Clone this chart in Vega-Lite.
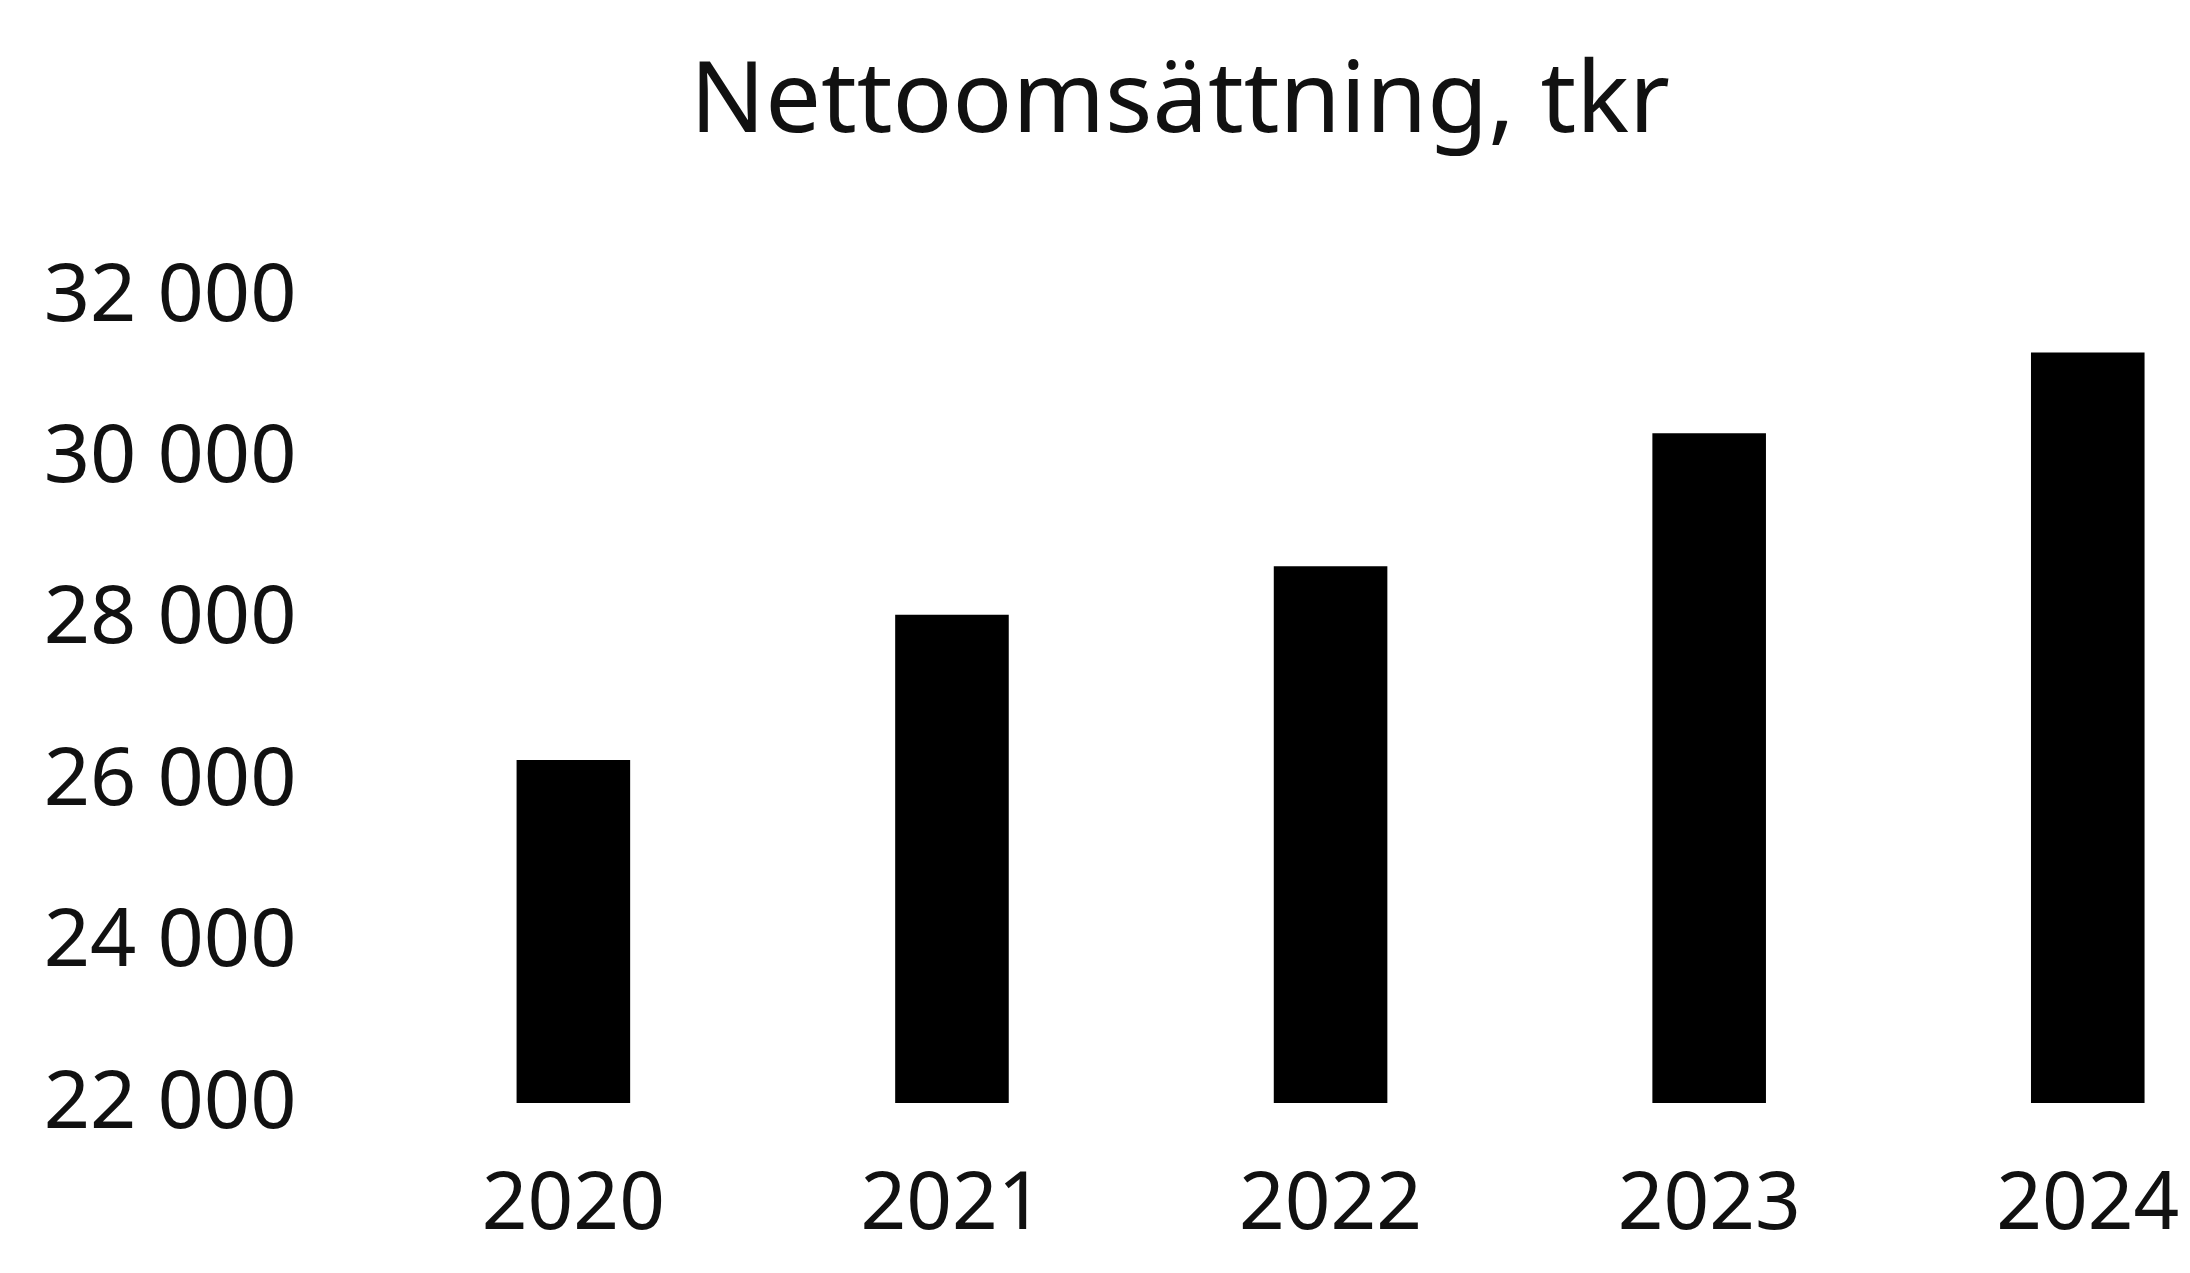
{
  "$schema": "https://vega.github.io/schema/vega-lite/v6.json",
  "autosize": {"type": "none"},
  "padding": {"left": 330, "top": 296, "right": 20, "bottom": 170},
  "width": 1840,
  "height": 807,
  "background": "white",
  "title": {
    "text": "Nettoomsättning, tkr",
    "font": "Noto Sans",
    "fontSize": 99,
    "fontWeight": "normal",
    "color": "#111111",
    "anchor": "middle",
    "dx": -70,
    "offset": 102
  },
  "data": {
    "values": [
      {"year": "2020", "value": 26250},
      {"year": "2021", "value": 28050},
      {"year": "2022", "value": 28650},
      {"year": "2023", "value": 30300},
      {"year": "2024", "value": 31300}
    ]
  },
  "mark": {"type": "bar", "color": "#000000"},
  "encoding": {
    "x": {
      "field": "year",
      "type": "nominal",
      "scale": {"paddingInner": 0.7, "paddingOuter": 0.28, "align": 0.88},
      "axis": {
        "title": null,
        "labelAngle": 0,
        "domain": false,
        "ticks": false,
        "labelFont": "Noto Sans",
        "labelFontSize": 80,
        "labelColor": "#111111",
        "labelPadding": 62,
        "labelLimit": 0
      }
    },
    "y": {
      "field": "value",
      "type": "quantitative",
      "scale": {"domain": [22000, 32000], "zero": false, "nice": false},
      "axis": {
        "title": null,
        "values": [22000, 24000, 26000, 28000, 30000, 32000],
        "format": ",d",
        "labelExpr": "replace(datum.label, ',', ' ')",
        "domain": false,
        "ticks": false,
        "grid": false,
        "labelFont": "Noto Sans",
        "labelFontSize": 81,
        "labelColor": "#111111",
        "labelPadding": 34,
        "labelLimit": 0
      }
    },
    "y2": {"datum": 22000}
  },
  "config": {"view": {"stroke": null}}
}
